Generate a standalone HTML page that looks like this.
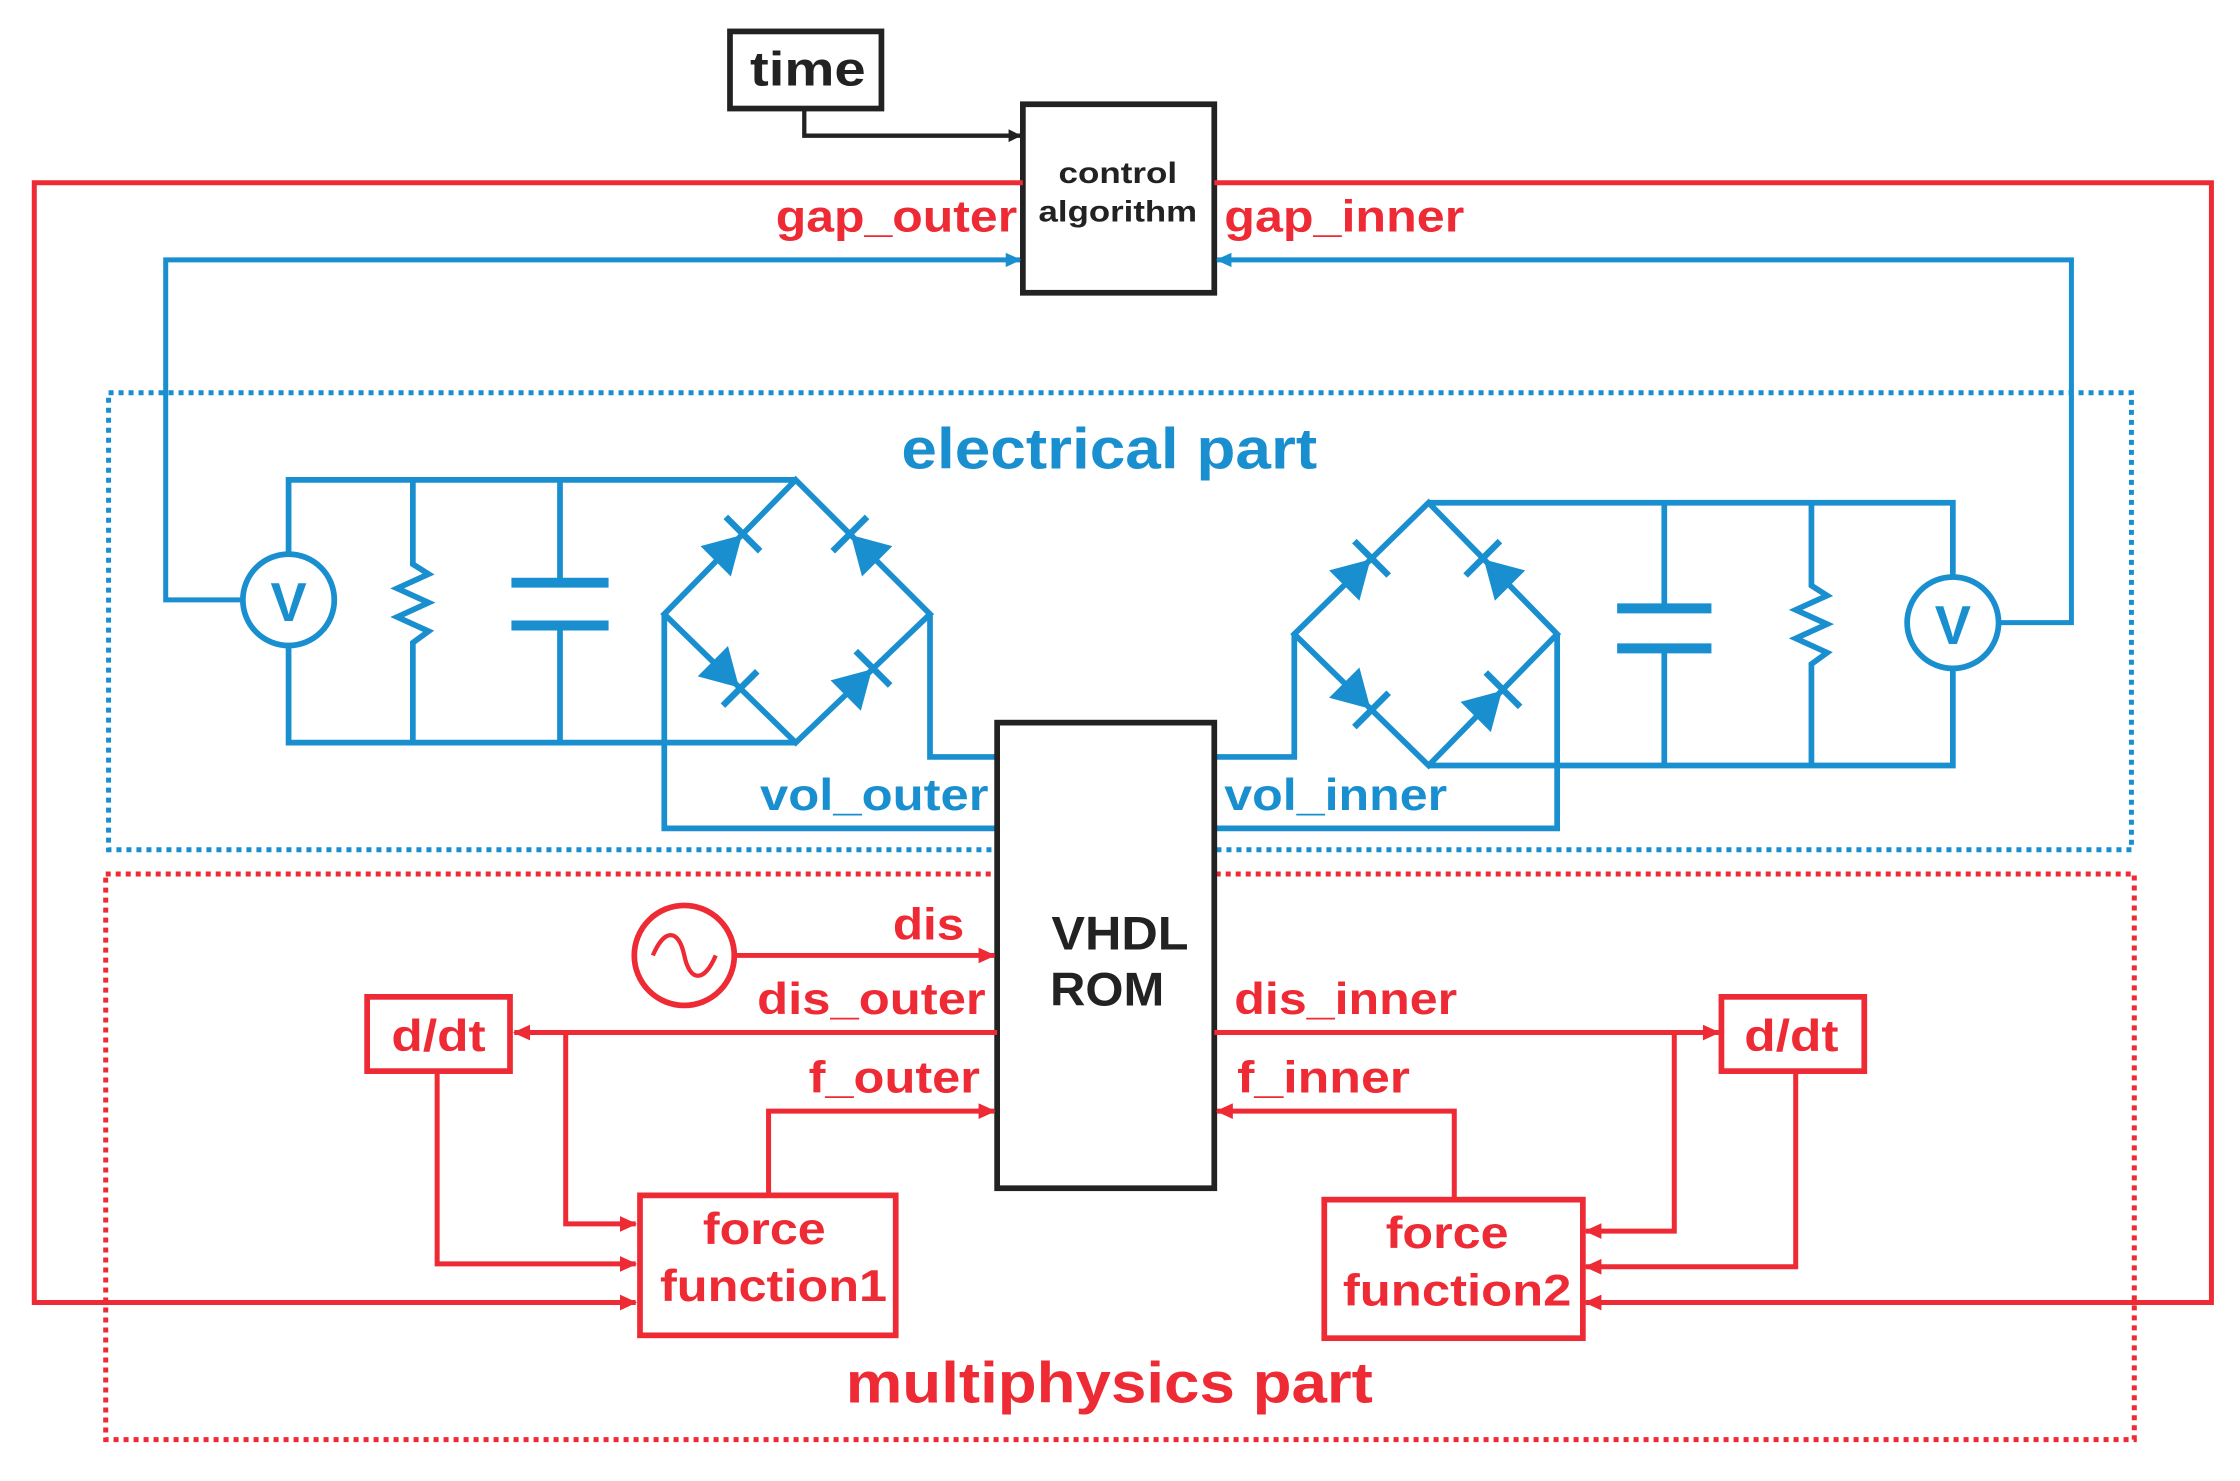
<!DOCTYPE html>
<html><head><meta charset="utf-8"><style>
html,body{margin:0;padding:0;background:#fff;}
svg{display:block;}
text{font-family:"Liberation Sans",Arial,sans-serif;font-weight:bold;}
</style></head><body>
<svg width="2240" height="1481" viewBox="0 0 1568 1037" preserveAspectRatio="none" xmlns="http://www.w3.org/2000/svg">
<defs>
<marker id="ak" markerWidth="9" markerHeight="9" refX="8" refY="4.5" orient="auto" markerUnits="userSpaceOnUse"><path d="M0,0 L9,4.5 L0,9 z" fill="#222"/></marker>
<marker id="ar" markerWidth="12" markerHeight="11" refX="11" refY="5.5" orient="auto" markerUnits="userSpaceOnUse"><path d="M0,0 L12,5.5 L0,11 z" fill="#ee2a35"/></marker>
<marker id="ab" markerWidth="11" markerHeight="10" refX="10" refY="5" orient="auto" markerUnits="userSpaceOnUse"><path d="M0,0 L11,5 L0,10 z" fill="#1a8fd0"/></marker>
<g id="diode"><polygon points="-17,-15 -17,15 9,0" fill="#1a8fd0"/><line x1="10" y1="-17" x2="10" y2="17" stroke="#1a8fd0" stroke-width="4.5"/></g>
</defs>

<rect x="76" y="275" width="1416" height="320" fill="none" stroke="#1a8fd0" stroke-width="3.5" stroke-dasharray="3.5,3.5"/>
<rect x="74" y="612" width="1420" height="396" fill="none" stroke="#ee2a35" stroke-width="3.5" stroke-dasharray="3.5,3.5"/>

<rect x="511" y="22" width="106" height="54" fill="#fff" stroke="#222" stroke-width="4"/>
<text x="525" y="60" font-size="34" textLength="81" lengthAdjust="spacingAndGlyphs" fill="#222">time</text>
<polyline points="563,76 563,95 714,95" fill="none" stroke="#222" stroke-width="3" marker-end="url(#ak)"/>
<rect x="716" y="73" width="134" height="132" fill="#fff" stroke="#222" stroke-width="4"/>
<text x="741" y="128" font-size="21" textLength="83" lengthAdjust="spacingAndGlyphs" fill="#222">control</text>
<text x="727" y="155" font-size="21" textLength="111" lengthAdjust="spacingAndGlyphs" fill="#222">algorithm</text>

<g fill="none" stroke="#ee2a35" stroke-width="3.5">
<polyline points="716,128 24,128 24,912 445,912" marker-end="url(#ar)"/>
<polyline points="850,128 1548,128 1548,912 1110,912" marker-end="url(#ar)"/>
</g>
<text x="543" y="162" font-size="31" textLength="169" lengthAdjust="spacingAndGlyphs" fill="#ee2a35">gap_outer</text>
<text x="857" y="162" font-size="31" textLength="168" lengthAdjust="spacingAndGlyphs" fill="#ee2a35">gap_inner</text>

<g fill="none" stroke="#1a8fd0" stroke-width="3.5">
<polyline points="170,420 116,420 116,182 714,182" marker-end="url(#ab)"/>
<polyline points="1399,436 1450,436 1450,182 852,182" marker-end="url(#ab)"/>
</g>
<text x="631" y="328" font-size="40" textLength="291" lengthAdjust="spacingAndGlyphs" fill="#1a8fd0">electrical part</text>

<g fill="none" stroke="#1a8fd0" stroke-width="4">
<polyline points="202,388 202,336 557,336"/>
<polyline points="202,452 202,520 557,520"/>
<polyline points="289,336 289,395 300,402 278,412 300,422 278,432 300,442 289,450 289,520"/>
<line x1="392" y1="336" x2="392" y2="408"/><line x1="392" y1="438" x2="392" y2="520"/>
<line x1="358" y1="408" x2="426" y2="408" stroke-width="7"/><line x1="358" y1="438" x2="426" y2="438" stroke-width="7"/>
<polygon points="557,336 651,430 557,520 465,430"/>
<polyline points="465,430 465,580 698,580"/>
<polyline points="651,430 651,530 698,530"/>
<circle cx="202" cy="420" r="32" stroke-width="4"/>
</g>
<text x="202" y="435" font-size="38" text-anchor="middle" fill="#1a8fd0">V</text>
<use href="#diode" transform="translate(513,381) rotate(-45)"/>
<use href="#diode" transform="translate(602,381) rotate(-135)"/>
<use href="#diode" transform="translate(511,475) rotate(45)"/>
<use href="#diode" transform="translate(604,475) rotate(-45)"/>

<g fill="none" stroke="#1a8fd0" stroke-width="4">
<polyline points="1000,352 1367,352 1367,404"/>
<polyline points="1000,536 1367,536 1367,468"/>
<polyline points="1268,352 1268,410 1279,417 1257,427 1279,437 1257,447 1279,457 1268,465 1268,536"/>
<line x1="1165" y1="352" x2="1165" y2="426"/><line x1="1165" y1="454" x2="1165" y2="536"/>
<line x1="1132" y1="426" x2="1198" y2="426" stroke-width="7"/><line x1="1132" y1="454" x2="1198" y2="454" stroke-width="7"/>
<polygon points="1000,352 1090,444 1000,536 906,444"/>
<polyline points="906,444 906,530 850,530"/>
<polyline points="1090,444 1090,580 850,580"/>
<circle cx="1367" cy="436" r="32" stroke-width="4"/>
</g>
<text x="1367" y="451" font-size="38" text-anchor="middle" fill="#1a8fd0">V</text>
<use href="#diode" transform="translate(953,398) rotate(-45)"/>
<use href="#diode" transform="translate(1045,398) rotate(-135)"/>
<use href="#diode" transform="translate(953,490) rotate(45)"/>
<use href="#diode" transform="translate(1045,490) rotate(-45)"/>

<text x="532" y="567" font-size="31" textLength="160" lengthAdjust="spacingAndGlyphs" fill="#1a8fd0">vol_outer</text>
<text x="857" y="567" font-size="31" textLength="156" lengthAdjust="spacingAndGlyphs" fill="#1a8fd0">vol_inner</text>

<rect x="698" y="506" width="152" height="326" fill="#fff" stroke="#222" stroke-width="4"/>
<text x="736" y="665" font-size="33" textLength="96" lengthAdjust="spacingAndGlyphs" fill="#222">VHDL</text>
<text x="735" y="704" font-size="33" textLength="80" lengthAdjust="spacingAndGlyphs" fill="#222">ROM</text>

<g fill="none" stroke="#ee2a35" stroke-width="3.5">
<circle cx="479" cy="669" r="35" stroke-width="4"/>
<path d="M457,669 C465,650 475,650 479,669 S493,688 501,669" stroke-width="3"/>
<line x1="514" y1="669" x2="696" y2="669" marker-end="url(#ar)"/>
<line x1="698" y1="723" x2="360" y2="723" marker-end="url(#ar)"/>
<polyline points="396,723 396,857 445,857" marker-end="url(#ar)"/>
<polyline points="306,750 306,885 445,885" marker-end="url(#ar)"/>
<polyline points="538,837 538,778 696,778" marker-end="url(#ar)"/>
<line x1="850" y1="723" x2="1203" y2="723" marker-end="url(#ar)"/>
<polyline points="1172,723 1172,862 1110,862" marker-end="url(#ar)"/>
<polyline points="1257,750 1257,887 1110,887" marker-end="url(#ar)"/>
<polyline points="1018,840 1018,778 852,778" marker-end="url(#ar)"/>
<rect x="257" y="698" width="100" height="52" stroke-width="4"/>
<rect x="1205" y="698" width="100" height="52" stroke-width="4"/>
<rect x="448" y="837" width="179" height="98" stroke-width="4"/>
<rect x="927" y="840" width="181" height="97" stroke-width="4"/>
</g>
<text x="274" y="736" font-size="31" textLength="66" lengthAdjust="spacingAndGlyphs" fill="#ee2a35">d/dt</text>
<text x="1221" y="736" font-size="31" textLength="66" lengthAdjust="spacingAndGlyphs" fill="#ee2a35">d/dt</text>
<text x="492" y="871" font-size="31" textLength="86" lengthAdjust="spacingAndGlyphs" fill="#ee2a35">force</text>
<text x="462" y="911" font-size="31" textLength="159" lengthAdjust="spacingAndGlyphs" fill="#ee2a35">function1</text>
<text x="970" y="874" font-size="31" textLength="86" lengthAdjust="spacingAndGlyphs" fill="#ee2a35">force</text>
<text x="940" y="914" font-size="31" textLength="160" lengthAdjust="spacingAndGlyphs" fill="#ee2a35">function2</text>
<text x="625" y="658" font-size="31" textLength="50" lengthAdjust="spacingAndGlyphs" fill="#ee2a35">dis</text>
<text x="530" y="710" font-size="31" textLength="160" lengthAdjust="spacingAndGlyphs" fill="#ee2a35">dis_outer</text>
<text x="566" y="765" font-size="31" textLength="120" lengthAdjust="spacingAndGlyphs" fill="#ee2a35">f_outer</text>
<text x="864" y="710" font-size="31" textLength="156" lengthAdjust="spacingAndGlyphs" fill="#ee2a35">dis_inner</text>
<text x="866" y="765" font-size="31" textLength="121" lengthAdjust="spacingAndGlyphs" fill="#ee2a35">f_inner</text>
<text x="592" y="982" font-size="40" textLength="369" lengthAdjust="spacingAndGlyphs" fill="#ee2a35">multiphysics part</text>
</svg>
</body></html>
